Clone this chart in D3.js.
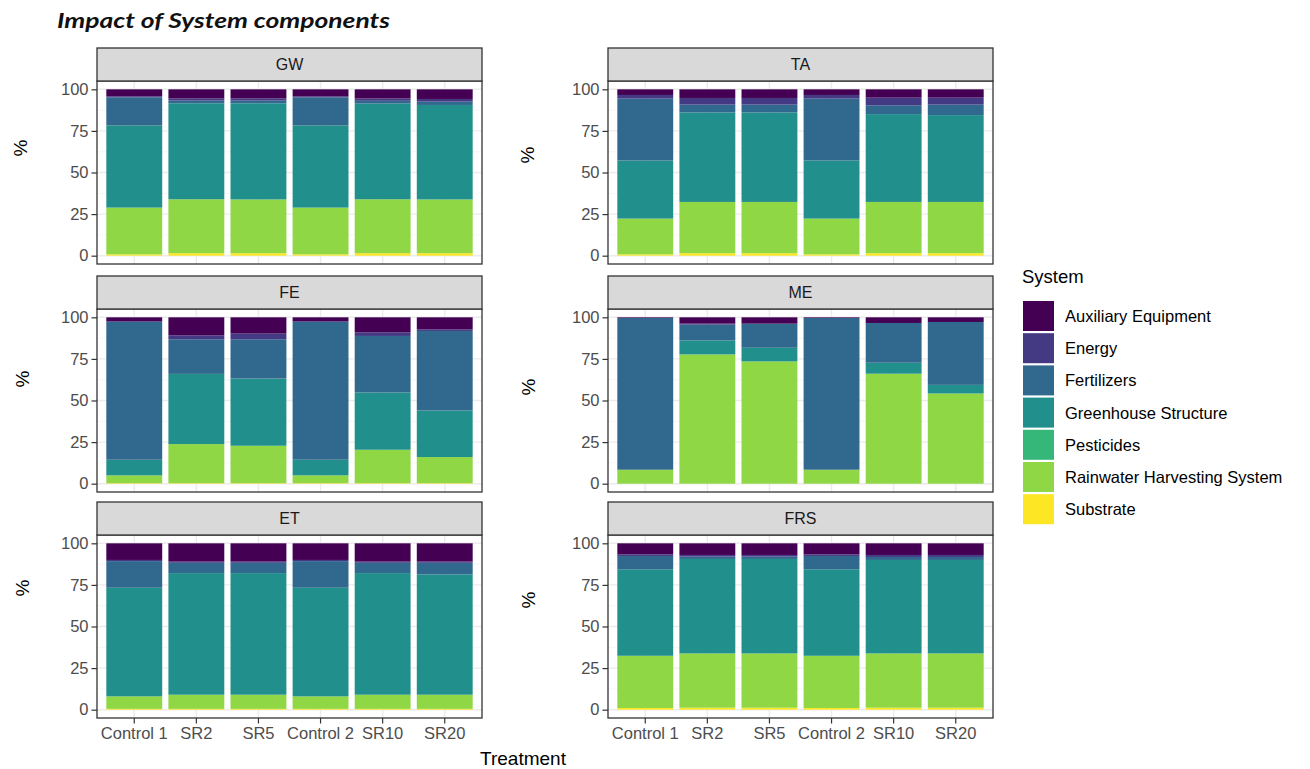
<!DOCTYPE html>
<html>
<head>
<meta charset="utf-8">
<script src="https://cdn.jsdelivr.net/npm/d3@7"></script>
<style>
  html, body { margin: 0; padding: 0; background: #ffffff; }
  svg { display: block; }
</style>
</head>
<body>
<svg id="chart" width="1310" height="769"></svg>
<script>
// ---- data -----------------------------------------------------------
const treatments = ["Control 1", "SR2", "SR5", "Control 2", "SR10", "SR20"];
const systems = ["Auxiliary Equipment", "Energy", "Fertilizers", "Greenhouse Structure",
                 "Pesticides", "Rainwater Harvesting System", "Substrate"];
const impactCategories = ["GW", "TA", "FE", "ME", "ET", "FRS"];
const yTicks = [0, 25, 50, 75, 100];

// share (%) of each system, rows follow `systems`, columns follow `treatments`
const GW = [
  [4.2, 5.4, 5.4, 4.2, 5.5, 5.8],
  [0.6, 1.4, 1.4, 0.6, 1.4, 1.6],
  [16.9, 1.6, 1.6, 16.9, 1.7, 2.0],
  [49.4, 57.7, 57.8, 49.4, 57.5, 56.8],
  [0, 0, 0, 0, 0, 0],
  [28.1, 32.4, 32.3, 28.1, 32.4, 32.3],
  [0.8, 1.5, 1.5, 0.8, 1.5, 1.5]
];
const TA = [
  [3.4, 5.2, 5.2, 3.4, 5.0, 5.0],
  [2.2, 4.0, 4.0, 2.2, 4.6, 4.2],
  [37.2, 4.7, 4.7, 37.2, 5.3, 6.3],
  [34.9, 53.8, 53.8, 34.9, 52.8, 52.2],
  [0, 0, 0, 0, 0, 0],
  [21.5, 30.8, 30.8, 21.5, 30.8, 30.8],
  [0.8, 1.5, 1.5, 0.8, 1.5, 1.5]
];
const FE = [
  [2.4, 10.8, 9.8, 2.4, 9.0, 7.2],
  [0.4, 2.4, 3.4, 0.4, 2.2, 1.0],
  [82.8, 20.8, 23.6, 82.8, 34.0, 47.8],
  [9.4, 42.2, 40.4, 9.4, 34.4, 28.0],
  [0, 0, 0, 0, 0, 0],
  [4.7, 23.5, 22.5, 4.7, 20.1, 15.7],
  [0.3, 0.3, 0.3, 0.3, 0.3, 0.3]
];
const ME = [
  [0.4, 3.8, 3.8, 0.4, 3.4, 2.8],
  [0, 0.6, 0, 0, 0, 0],
  [91.2, 9.5, 14.5, 91.2, 23.9, 37.8],
  [0, 8.4, 8.2, 0, 6.6, 5.2],
  [0, 0, 0, 0, 0, 0],
  [8.4, 77.7, 73.5, 8.4, 66.1, 54.2],
  [0, 0, 0, 0, 0, 0]
];
const ET = [
  [10.0, 11.0, 11.0, 10.0, 11.0, 11.0],
  [0.7, 0.7, 0.7, 0.7, 0.7, 0.7],
  [16.0, 6.2, 6.2, 16.0, 6.2, 7.0],
  [65.3, 73.1, 73.1, 65.3, 73.1, 72.3],
  [0, 0, 0, 0, 0, 0],
  [7.5, 8.5, 8.5, 7.5, 8.5, 8.5],
  [0.5, 0.5, 0.5, 0.5, 0.5, 0.5]
];
const FRS = [
  [6.6, 7.0, 7.0, 6.6, 7.0, 7.0],
  [1.0, 1.0, 1.0, 1.0, 1.2, 1.2],
  [8.0, 1.4, 1.4, 8.0, 1.8, 1.8],
  [52.0, 56.8, 56.8, 52.0, 56.2, 56.2],
  [0, 0, 0, 0, 0, 0],
  [31.4, 32.6, 32.6, 31.4, 32.6, 32.6],
  [1.0, 1.2, 1.2, 1.0, 1.2, 1.2]
];
const shares = { GW, TA, FE, ME, ET, FRS };

// viridis palette, one colour per system
const palette = ["#440154", "#443A83", "#31688E", "#21908C", "#35B779", "#8FD744", "#FDE725"];

// ---- layout -----------------------------------------------------------
const W = 1310, H = 769;
const colX = [97, 608];
const rowY = [48, 276, 502];
const panelW = 385, stripH = 33, plotH = 183;
const FONT = "'Liberation Sans', Arial, Helvetica, sans-serif";
const yTitlePos = [[20, 148], [527, 155], [22, 379], [528, 387], [22, 588], [528, 600]];

const svg = d3.select("#chart");
svg.append("rect").attr("width", W).attr("height", H).attr("fill", "#ffffff");

// title
svg.append("text")
  .attr("x", 57).attr("y", 28)
  .attr("font-family", "Lato, 'Open Sans', sans-serif")
  .attr("font-weight", 700).attr("font-style", "italic")
  .attr("font-size", 21.5)
  .attr("fill", "#111111")
  .attr("textLength", 333).attr("lengthAdjust", "spacingAndGlyphs")
  .text("Impact of System components");

const x = d3.scaleBand().domain(treatments).range([0, panelW])
  .paddingInner(0.1).paddingOuter(0.15);
const y = d3.scaleLinear().domain([-5, 105]).range([plotH, 0]);
const colour = d3.scaleOrdinal().domain(systems).range(palette);

// stack from the bottom: last system first
const stackKeys = systems.slice().reverse();
const stack = d3.stack().keys(stackKeys);

impactCategories.forEach((cat, i) => {
  const col = i % 2, row = Math.floor(i / 2);
  const px = colX[col], stripTop = rowY[row], py = stripTop + stripH;
  const g = svg.append("g").attr("transform", `translate(${px},${py})`);

  // grid (theme_bw)
  const minor = [12.5, 37.5, 62.5, 87.5];
  g.selectAll(".minor").data(minor).join("line")
    .attr("x1", 0).attr("x2", panelW)
    .attr("y1", d => y(d)).attr("y2", d => y(d))
    .attr("stroke", "#F2F2F2").attr("stroke-width", 0.8);
  g.selectAll(".majorY").data(yTicks).join("line")
    .attr("x1", 0).attr("x2", panelW)
    .attr("y1", d => y(d)).attr("y2", d => y(d))
    .attr("stroke", "#EBEBEB").attr("stroke-width", 1.4);
  g.selectAll(".majorX").data(treatments).join("line")
    .attr("x1", d => x(d) + x.bandwidth() / 2).attr("x2", d => x(d) + x.bandwidth() / 2)
    .attr("y1", 0).attr("y2", plotH)
    .attr("stroke", "#EBEBEB").attr("stroke-width", 1.4);

  // stacked bars
  const rows = treatments.map((t, j) => {
    const o = { treatment: t };
    systems.forEach((s, k) => { o[s] = shares[cat][k][j]; });
    return o;
  });
  const series = stack(rows);
  g.selectAll(".layer").data(series).join("g")
    .attr("fill", d => colour(d.key))
    .selectAll("rect").data(d => d).join("rect")
      .attr("x", d => x(d.data.treatment))
      .attr("width", x.bandwidth())
      .attr("y", d => y(d[1]))
      .attr("height", d => Math.max(0, y(d[0]) - y(d[1])));

  // panel border
  g.append("rect").attr("x", 0).attr("y", 0).attr("width", panelW).attr("height", plotH)
    .attr("fill", "none").attr("stroke", "#333333").attr("stroke-width", 1.3);

  // strip
  svg.append("rect").attr("x", px).attr("y", stripTop).attr("width", panelW).attr("height", stripH)
    .attr("fill", "#D9D9D9").attr("stroke", "#333333").attr("stroke-width", 1.3);
  svg.append("text").attr("x", px + panelW / 2).attr("y", stripTop + stripH / 2)
    .attr("dy", "0.36em").attr("text-anchor", "middle")
    .attr("font-family", FONT).attr("font-size", 16).attr("fill", "#1A1A1A")
    .text(cat);

  // y axis
  const yAxis = g.append("g").call(d3.axisLeft(y).tickValues(yTicks).tickSize(5.5).tickPadding(3));
  yAxis.select(".domain").remove();
  yAxis.selectAll(".tick line").attr("stroke", "#333333").attr("stroke-width", 1.2);
  yAxis.selectAll(".tick text").attr("font-family", FONT).attr("font-size", 16.5).attr("fill", "#4D4D4D");

  // x axis on the bottom row only
  if (row === 2) {
    const xAxis = g.append("g").attr("transform", `translate(0,${plotH})`)
      .call(d3.axisBottom(x).tickSize(5.5).tickPadding(4));
    xAxis.select(".domain").remove();
    xAxis.selectAll(".tick line").attr("stroke", "#333333").attr("stroke-width", 1.2);
    xAxis.selectAll(".tick text").attr("font-family", FONT).attr("font-size", 16.5).attr("fill", "#4D4D4D");
  }

  // y axis title
  const [tx, ty] = yTitlePos[i];
  svg.append("text").attr("transform", `translate(${tx},${ty}) rotate(-90)`)
    .attr("text-anchor", "middle").attr("dy", "0.36em")
    .attr("font-family", FONT).attr("font-size", 19).attr("fill", "#000000")
    .text("%");
});

// x axis title
svg.append("text").attr("x", 523).attr("y", 765).attr("text-anchor", "middle")
  .attr("font-family", FONT).attr("font-size", 19).attr("fill", "#000000")
  .text("Treatment");

// legend
const legend = svg.append("g").attr("transform", "translate(1023,0)");
legend.append("text").attr("x", -1).attr("y", 283)
  .attr("font-family", FONT).attr("font-size", 18.5).attr("fill", "#000000")
  .text("System");
const keyStep = 32.2;
const items = legend.selectAll(".item").data(systems).join("g")
  .attr("transform", (d, k) => `translate(0,${301 + k * keyStep})`);
items.append("rect").attr("width", 31).attr("height", 30).attr("fill", d => colour(d));
items.append("text").attr("x", 42).attr("y", 15).attr("dy", "0.36em")
  .attr("font-family", FONT).attr("font-size", 16.5).attr("fill", "#000000")
  .text(d => d);
</script>
</body>
</html>
